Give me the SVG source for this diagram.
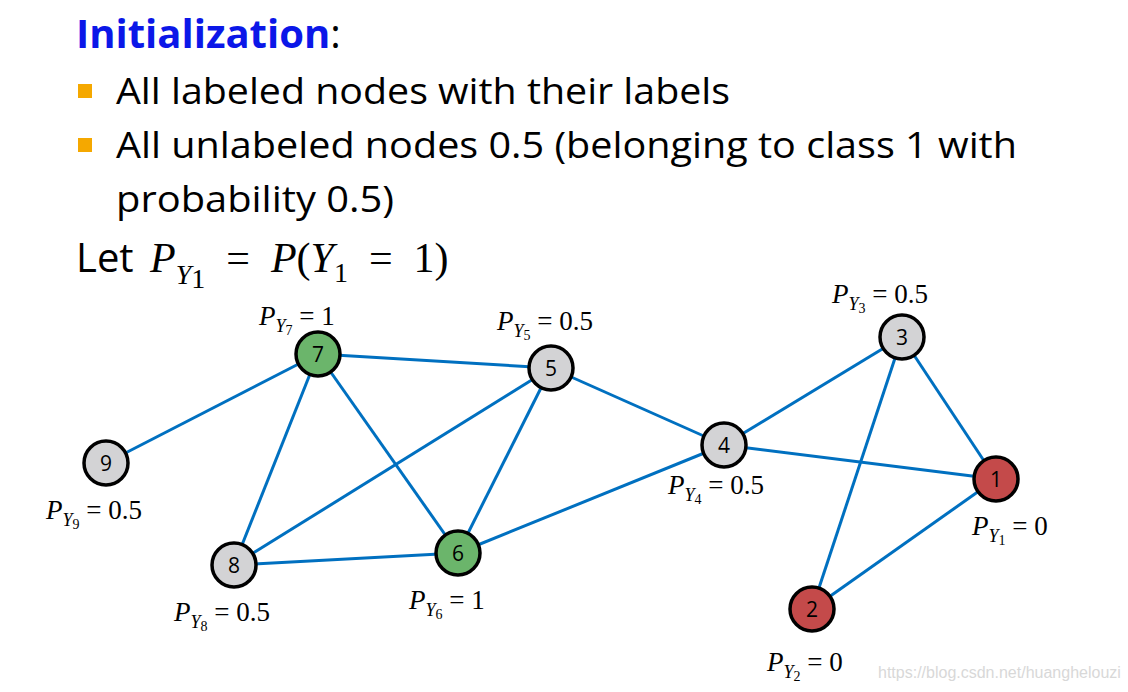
<svg xmlns="http://www.w3.org/2000/svg" width="1128" height="692" viewBox="0 0 1128 692">
<style>
.t{font-family:"Open Sans","Liberation Sans",sans-serif;fill:#000}
.m{font-family:"Liberation Serif",serif;font-size:27px;fill:#000}
.i{font-style:italic}
.e line{stroke:#0070C0;stroke-width:3}
.n circle{stroke:#000;stroke-width:3.5}
.n text{font-family:"Open Sans","Liberation Sans",sans-serif;font-size:21px;text-anchor:middle}
.g{fill:#D3D3D5}.gr{fill:#6BB56B}.r{fill:#C44A4A}
</style>
<rect width="1128" height="692" fill="#fff"/>
<text x="76" y="48" class="t" style="font-size:40px;font-weight:bold;fill:#0B17E8">Initialization<tspan style="font-weight:normal;fill:#000">:</tspan></text>
<rect x="78" y="84" width="14" height="14" fill="#F5A800"/>
<text x="116" y="104" class="t" style="font-size:36px" textLength="614" lengthAdjust="spacingAndGlyphs">All labeled nodes with their labels</text>
<rect x="78" y="138" width="14" height="14" fill="#F5A800"/>
<text x="116" y="158" class="t" style="font-size:36px" textLength="901" lengthAdjust="spacingAndGlyphs">All unlabeled nodes 0.5 (belonging to class 1 with</text>
<text x="116" y="212" class="t" style="font-size:36px" textLength="278" lengthAdjust="spacingAndGlyphs">probability 0.5)</text>
<text x="76" y="272" class="t" style="font-size:40px">Let</text>
<text x="150" y="272" class="m" style="font-size:42px" xml:space="preserve"><tspan class="i">P</tspan><tspan class="i" font-size="28" dy="12">Y</tspan><tspan font-size="28" dy="4">1</tspan><tspan dy="-16">  =  </tspan><tspan class="i">P</tspan>(<tspan class="i">Y</tspan><tspan font-size="28" dy="10">1</tspan><tspan dy="-10">  =  1)</tspan></text>
<g class="e">
<line x1="318" y1="354" x2="551" y2="368"/><line x1="318" y1="354" x2="106" y2="463"/>
<line x1="318" y1="354" x2="234" y2="565"/><line x1="318" y1="354" x2="458" y2="553"/>
<line x1="551" y1="368" x2="234" y2="565"/><line x1="551" y1="368" x2="458" y2="553"/>
<line x1="551" y1="368" x2="724" y2="445"/><line x1="234" y1="565" x2="458" y2="553"/>
<line x1="458" y1="553" x2="724" y2="445"/><line x1="724" y1="445" x2="902" y2="337"/>
<line x1="724" y1="445" x2="996" y2="479"/><line x1="902" y1="337" x2="996" y2="479"/>
<line x1="902" y1="337" x2="812" y2="609"/><line x1="996" y1="479" x2="812" y2="609"/>
</g>
<g id="n7" class="n"><circle cx="318" cy="354" r="22" class="gr"/><text x="318" y="362">7</text></g>
<g id="n5" class="n"><circle cx="551" cy="368" r="22" class="g"/><text x="551" y="376">5</text></g>
<g id="n9" class="n"><circle cx="106" cy="463" r="22" class="g"/><text x="106" y="471">9</text></g>
<g id="n8" class="n"><circle cx="234" cy="565" r="22" class="g"/><text x="234" y="573">8</text></g>
<g id="n6" class="n"><circle cx="458" cy="553" r="22" class="gr"/><text x="458" y="561">6</text></g>
<g id="n4" class="n"><circle cx="724" cy="445" r="22" class="g"/><text x="724" y="453">4</text></g>
<g id="n3" class="n"><circle cx="902" cy="337" r="22" class="g"/><text x="902" y="345">3</text></g>
<g id="n1" class="n"><circle cx="996" cy="479" r="22" class="r"/><text x="996" y="487">1</text></g>
<g id="n2" class="n"><circle cx="812" cy="609" r="22" class="r"/><text x="812" y="617">2</text></g>
<g id="labels" xml:space="preserve">
<text x="259" y="325" class="m"><tspan class="i">P</tspan><tspan class="i" font-size="18" dy="7">Y</tspan><tspan font-size="14" dy="3">7</tspan><tspan dy="-10">  =  1</tspan></text>
<text x="497" y="330" class="m"><tspan class="i">P</tspan><tspan class="i" font-size="18" dy="7">Y</tspan><tspan font-size="14" dy="3">5</tspan><tspan dy="-10">  =  0.5</tspan></text>
<text x="832" y="303" class="m"><tspan class="i">P</tspan><tspan class="i" font-size="18" dy="7">Y</tspan><tspan font-size="14" dy="3">3</tspan><tspan dy="-10">  =  0.5</tspan></text>
<text x="46" y="519" class="m"><tspan class="i">P</tspan><tspan class="i" font-size="18" dy="7">Y</tspan><tspan font-size="14" dy="3">9</tspan><tspan dy="-10">  =  0.5</tspan></text>
<text x="668" y="494" class="m"><tspan class="i">P</tspan><tspan class="i" font-size="18" dy="7">Y</tspan><tspan font-size="14" dy="3">4</tspan><tspan dy="-10">  =  0.5</tspan></text>
<text x="972" y="535" class="m"><tspan class="i">P</tspan><tspan class="i" font-size="18" dy="7">Y</tspan><tspan font-size="14" dy="3">1</tspan><tspan dy="-10">  =  0</tspan></text>
<text x="174" y="621" class="m"><tspan class="i">P</tspan><tspan class="i" font-size="18" dy="7">Y</tspan><tspan font-size="14" dy="3">8</tspan><tspan dy="-10">  =  0.5</tspan></text>
<text x="409" y="609" class="m"><tspan class="i">P</tspan><tspan class="i" font-size="18" dy="7">Y</tspan><tspan font-size="14" dy="3">6</tspan><tspan dy="-10">  =  1</tspan></text>
<text x="767" y="671" class="m"><tspan class="i">P</tspan><tspan class="i" font-size="18" dy="7">Y</tspan><tspan font-size="14" dy="3">2</tspan><tspan dy="-10">  =  0</tspan></text>
</g>
<text x="878" y="678" style="font-family:'Liberation Sans',sans-serif;font-size:16px;fill:#D8D8D8">https://blog.csdn.net/huanghelouzi</text>
</svg>
